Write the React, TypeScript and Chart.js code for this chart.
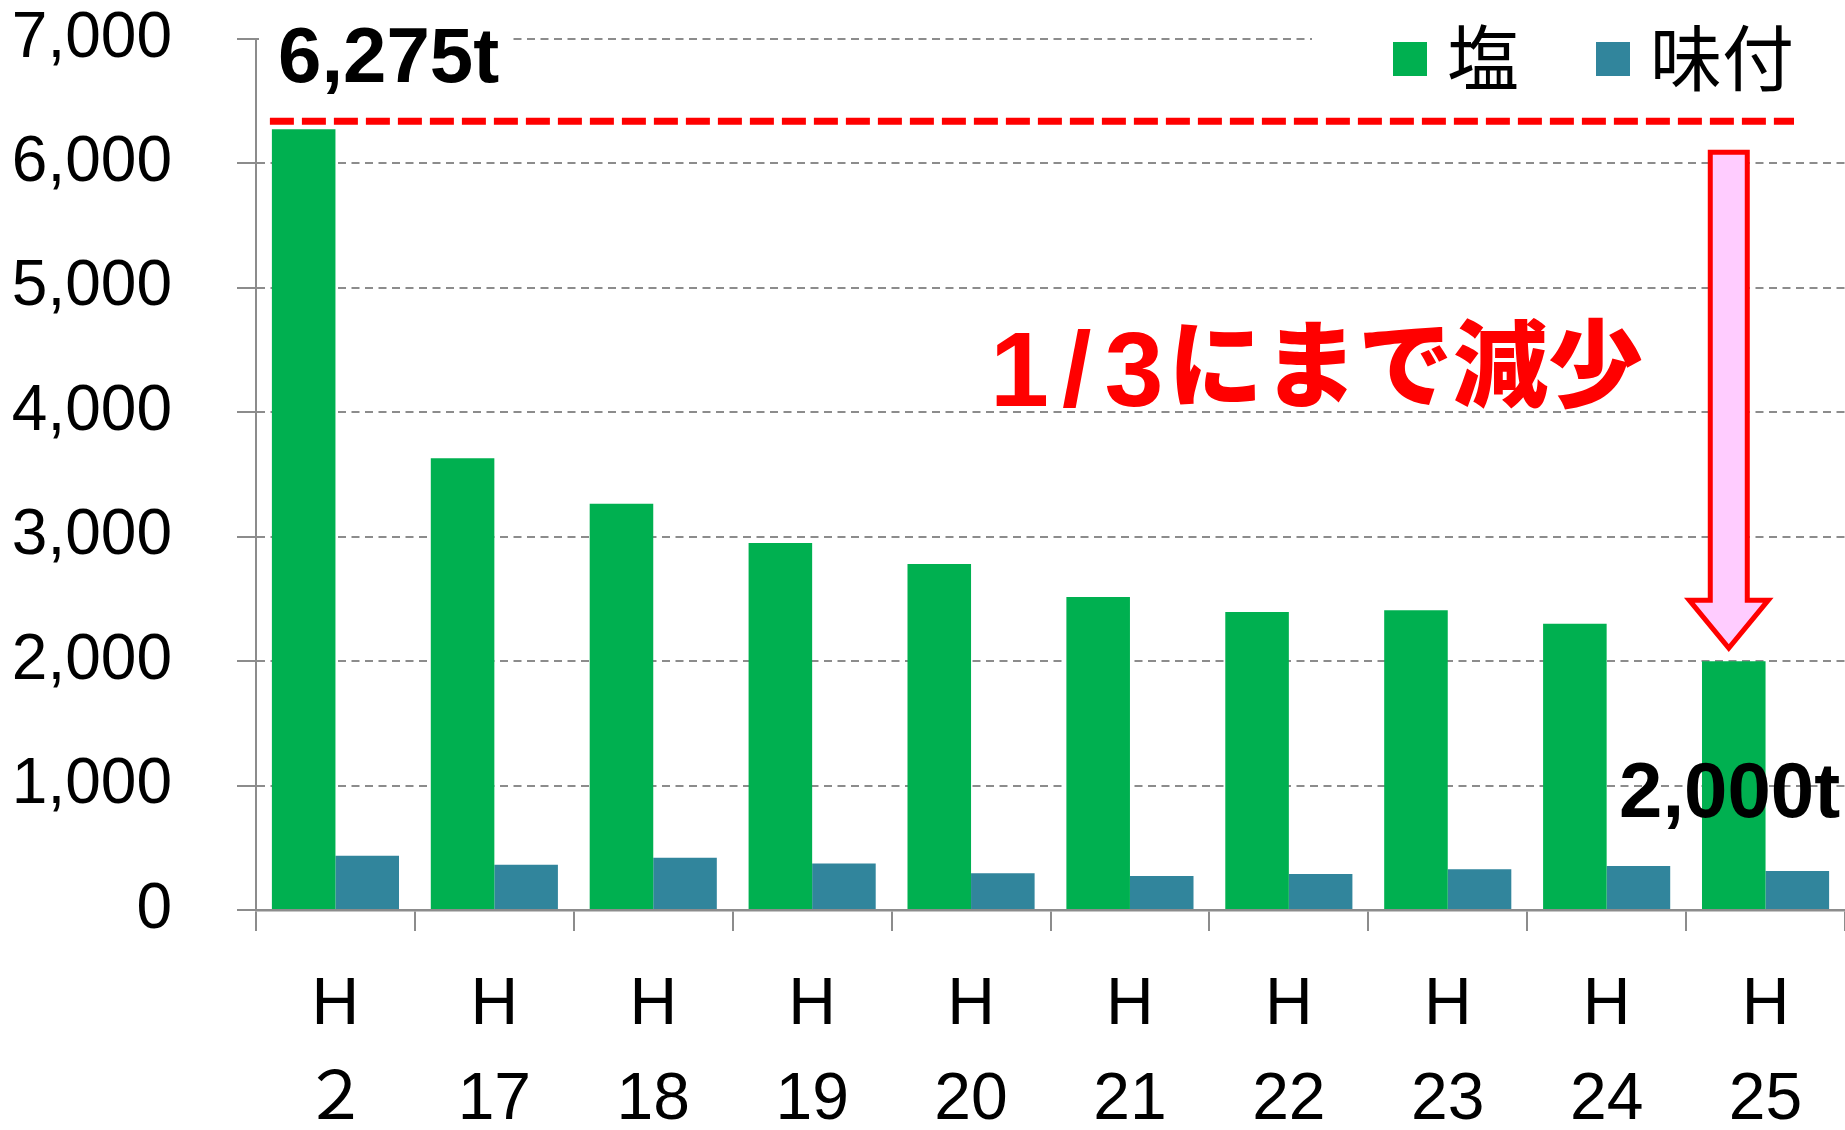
import React, { useEffect, useRef } from "react";
import { Chart, registerables } from "chart.js";

Chart.register(...registerables);

// ---- data ----
const categories: string[][] = [
  ["H", "２"], ["H", "17"], ["H", "18"], ["H", "19"], ["H", "20"],
  ["H", "21"], ["H", "22"], ["H", "23"], ["H", "24"], ["H", "25"],
];
const seriesLabels = ["塩", "味付"];
const saltValues = [6275, 3630, 3265, 2950, 2780, 2515, 2395, 2410, 2300, 2000];
const seasonedValues = [435, 363, 419, 374, 295, 273, 290, 328, 354, 314];
const yMin = 0;
const yMax = 7000;
const yStep = 1000;
const startLabel = "6,275t";
const endLabel = "2,000t";
const noteNumber = "1/3";
const noteText = "にまで減少";

// ---- styles ----
const GREEN = "#00B050";
const TEAL = "#31859C";
const GRID = "#8C8C8C";
const SANS = "'Liberation Sans', Arial, 'Noto Sans CJK JP', sans-serif";
const CJK = "'Noto Sans CJK JP', 'Noto Sans', sans-serif";

const W = 1845;
const H = 1130;

const annotationPlugin = {
  id: "annotations",
  afterDatasetsDraw(chart: any) {
    const ctx = chart.ctx as CanvasRenderingContext2D;
    const area = chart.chartArea;
    const y = chart.scales.y;
    const metaSalt = chart.getDatasetMeta(0);
    const firstBar = metaSalt.data[0];
    const lastBar = metaSalt.data[metaSalt.data.length - 1];

    ctx.save();

    // white boxes behind the label and legend
    ctx.fillStyle = "#FFFFFF";
    ctx.fillRect(area.left + 3, area.top - 25, 250, 70);
    ctx.fillRect(area.right - 533, area.top - 30, 533, 80);

    // red dashed reference line (just above the first bar)
    const refY = y.getPixelForValue(saltValues[0]) - 8;
    ctx.strokeStyle = "#FF0000";
    ctx.lineWidth = 7;
    ctx.setLineDash([24, 8]);
    ctx.beginPath();
    ctx.moveTo(firstBar.x - firstBar.width / 2 - 2, refY);
    ctx.lineTo(area.right - 51, refY);
    ctx.stroke();
    ctx.setLineDash([]);

    // arrow
    const ax = lastBar.x - 5;
    const top = refY + 31;
    const tip = lastBar.y - 13;
    const headTop = tip - 48;
    const sw = 18.5;
    const hw = 39.5;
    ctx.beginPath();
    ctx.moveTo(ax - sw, top);
    ctx.lineTo(ax + sw, top);
    ctx.lineTo(ax + sw, headTop);
    ctx.lineTo(ax + hw, headTop);
    ctx.lineTo(ax, tip);
    ctx.lineTo(ax - hw, headTop);
    ctx.lineTo(ax - sw, headTop);
    ctx.closePath();
    ctx.fillStyle = "#FFCCFF";
    ctx.fill();
    ctx.lineWidth = 5;
    ctx.lineJoin = "miter";
    ctx.strokeStyle = "#FF0000";
    ctx.stroke();

    // value labels
    ctx.fillStyle = "#000000";
    ctx.font = `bold 78px ${SANS}`;
    ctx.textAlign = "left";
    ctx.textBaseline = "alphabetic";
    ctx.fillText(startLabel, area.left + 22, 82);
    ctx.fillText(endLabel, 1619, 817);

    // note
    ctx.fillStyle = "#FF0000";
    (ctx as any).letterSpacing = "13px";
    ctx.font = `bold 106px ${SANS}`;
    ctx.fillText(noteNumber, 990, 406);
    (ctx as any).letterSpacing = "0px";
    ctx.font = `900 95px ${CJK}`;
    ctx.fillText(noteText, 1168, 400);

    // legend
    const legendItems = chart.data.datasets.map((d: any) => ({ label: d.label, color: d.backgroundColor }));
    const legendX = [1393, 1596];
    ctx.font = `72px ${CJK}`;
    ctx.textBaseline = "middle";
    legendItems.forEach((item: any, i: number) => {
      ctx.fillStyle = item.color;
      ctx.fillRect(legendX[i], 42, 34, 34);
      ctx.fillStyle = "#000000";
      ctx.fillText(item.label, legendX[i] + 54, 58);
    });

    ctx.restore();
  },
};

export default function App() {
  const ref = useRef<HTMLCanvasElement | null>(null);

  useEffect(() => {
    if (!ref.current) return;
    const chart = new Chart(ref.current, {
      type: "bar",
      data: {
        labels: categories,
        datasets: [
          { label: seriesLabels[0], data: saltValues, backgroundColor: GREEN, borderWidth: 0 },
          { label: seriesLabels[1], data: seasonedValues, backgroundColor: TEAL, borderWidth: 0 },
        ],
      },
      options: {
        animation: false,
        responsive: false,
        devicePixelRatio: 1,
        layout: { padding: { top: 39, right: 0, bottom: 0, left: 0 } },
        datasets: { bar: { categoryPercentage: 0.8, barPercentage: 1.0 } },
        plugins: {
          legend: { display: false },
          tooltip: { enabled: false },
          title: { display: false },
        },
        scales: {
          x: {
            offset: true,
            grid: {
              drawOnChartArea: false,
              drawTicks: true,
              tickLength: 21,
              color: GRID,
              lineWidth: 2,
              offset: true,
              tickBorderDash: [],
            },
            border: { display: true, color: GRID, width: 2.5 },
            ticks: {
              color: "#000000",
              font: { family: SANS, size: 66, lineHeight: 1.43 },
              padding: 28,
              maxRotation: 0,
              minRotation: 0,
              autoSkip: false,
            },
            afterFit: (s: any) => {
              s.height = H - 910;
              s.paddingLeft = 0;
              s.paddingRight = 0;
            },
          },
          y: {
            min: yMin,
            max: yMax,
            grid: {
              color: GRID,
              lineWidth: 2,
              tickBorderDash: [],
              tickLength: 19,
              tickColor: GRID,
              tickWidth: 2,
              drawTicks: true,
            },
            border: { display: true, color: GRID, width: 2, dash: [8, 5.5] },
            ticks: {
              stepSize: yStep,
              color: "#000000",
              font: { family: SANS, size: 64 },
              padding: 65,
              callback: (v: any) => Number(v).toLocaleString("en-US"),
            },
            afterFit: (s: any) => {
              s.width = 256;
              s.paddingTop = 0;
              s.paddingBottom = 0;
            },
          },
        },
      },
      plugins: [annotationPlugin],
    });
    return () => chart.destroy();
  }, []);

  return (
    <div style={{ position: "fixed", left: 0, top: 0, width: W, height: H, background: "#FFFFFF" }}>
      <canvas ref={ref} width={W} height={H} style={{ display: "block", width: W, height: H }} />
    </div>
  );
}
